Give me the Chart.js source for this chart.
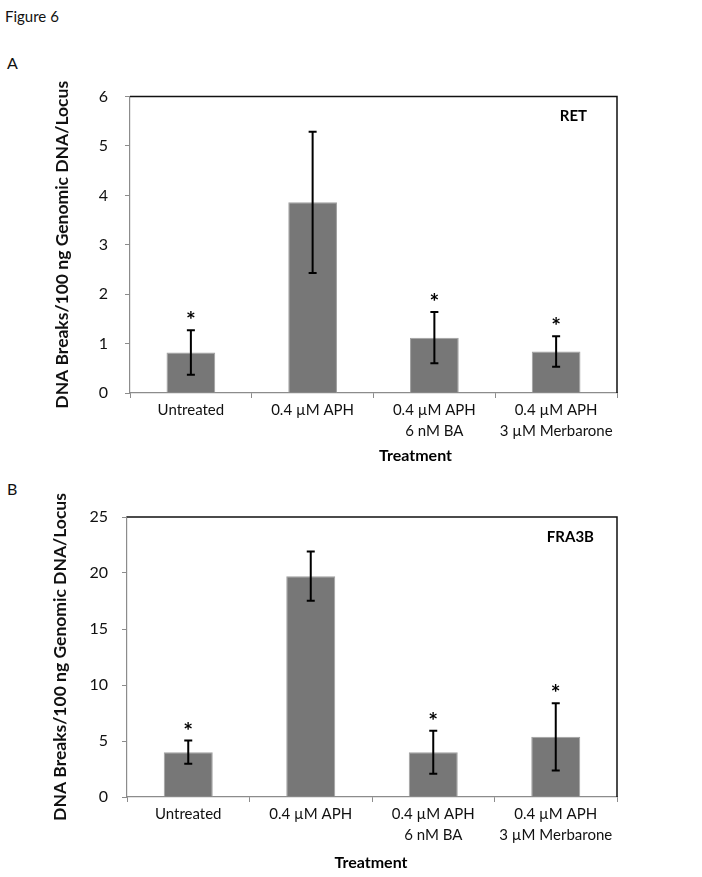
<!DOCTYPE html>
<html>
<head>
<meta charset="utf-8">
<script src="https://cdn.jsdelivr.net/npm/chart.js@4"></script>
<style>
  body { margin: 0; background: #fff; width: 702px; height: 877px; position: relative; overflow: hidden; font-family: Lato, sans-serif; }
  .lbl { position: absolute; font-size: 15px; color: #111; }
  .box { position: absolute; left: 0; }
</style>
</head>
<body>
<div class="lbl" style="left:5px; top:7px;">Figure 6</div>
<div class="lbl" style="left:7px; top:53px; font-size:16px;">A</div>
<div class="lbl" style="left:7px; top:479px; font-size:16px;">B</div>
<div class="box" style="top:70px;"><canvas id="chartA" width="702" height="400"></canvas></div>
<div class="box" style="top:480px;"><canvas id="chartB" width="702" height="397"></canvas></div>
<script>
// categories (multi-line tick labels)
const treatments = [
  ['Untreated'],
  ['0.4 µM APH'],
  ['0.4 µM APH', '6 nM BA'],
  ['0.4 µM APH', '3 µM Merbarone']
];
// panel A: RET
const retBreaks = [0.82, 3.86, 1.12, 0.84];
const retErr = [0.45, 1.43, 0.52, 0.31];
// panel B: FRA3B
const fraBreaks = [4.0, 19.72, 4.0, 5.37];
const fraErr = [1.04, 2.2, 1.92, 3.0];
// * = significant vs 0.4 µM APH
const significant = [true, false, true, true];

const retTicks = { min: 0, max: 6, step: 1 };
const fraTicks = { min: 0, max: 25, step: 5 };

const yTitle = 'DNA Breaks/100 ng Genomic DNA/Locus';
const xTitle = 'Treatment';

Chart.defaults.font.family = 'Lato, sans-serif';
Chart.defaults.color = '#111';

const axisGrey = '#8c8c8c';

// error bars + asterisks, drawn through the scales
const errorBars = {
  id: 'errorBars',
  afterDatasetsDraw(chart, args, opts) {
    const { ctx, scales: { x, y } } = chart;
    const vals = chart.data.datasets[0].data;
    ctx.save();
    ctx.strokeStyle = '#000';
    ctx.lineWidth = 2;
    vals.forEach((v, i) => {
      const px = x.getPixelForValue(i);
      const top = y.getPixelForValue(v + opts.errors[i]);
      const bot = y.getPixelForValue(v - opts.errors[i]);
      ctx.beginPath();
      ctx.moveTo(px, top); ctx.lineTo(px, bot);
      ctx.moveTo(px - 4, top); ctx.lineTo(px + 4, top);
      ctx.moveTo(px - 4, bot); ctx.lineTo(px + 4, bot);
      ctx.stroke();
      if (opts.stars[i]) {
        ctx.fillStyle = '#000';
        ctx.font = 'bold 23px Lato, sans-serif';
        ctx.textAlign = 'center';
        ctx.textBaseline = 'alphabetic';
        ctx.fillText('*', px, top - 2);
      }
    });
    ctx.restore();
  }
};

// black top/right frame, locus label, shifted x title
const extras = {
  id: 'extras',
  afterDraw(chart, args, opts) {
    const { ctx, chartArea: a } = chart;
    ctx.save();
    ctx.strokeStyle = '#111';
    ctx.lineWidth = 1.5;
    ctx.beginPath();
    ctx.moveTo(a.left, a.top); ctx.lineTo(a.right, a.top); ctx.lineTo(a.right, a.bottom);
    ctx.stroke();
    ctx.fillStyle = '#000';
    ctx.font = 'bold 15px Lato, sans-serif';
    ctx.textAlign = 'right';
    ctx.textBaseline = 'middle';
    ctx.fillText(opts.locus, a.right - opts.locusDx, a.top + 20);
    ctx.font = 'bold 16px Lato, sans-serif';
    ctx.textAlign = 'center';
    ctx.fillText(xTitle, (a.left + a.right) / 2 + opts.titleDx, opts.titleY);
    ctx.restore();
  }
};

function makeChart(id, values, errors, ticks, cfg) {
  return new Chart(document.getElementById(id), {
    type: 'bar',
    data: {
      labels: treatments,
      datasets: [{
        data: values,
        backgroundColor: '#777777',
        borderColor: '#a0a0a0',
        borderWidth: 1,
        barPercentage: 0.4,
        categoryPercentage: 1
      }]
    },
    options: {
      responsive: false,
      animation: false,
      layout: { padding: cfg.padding },
      plugins: {
        legend: { display: false },
        tooltip: { enabled: false },
        errorBars: { errors: errors, stars: significant },
        extras: cfg.extras
      },
      scales: {
        x: {
          grid: { drawOnChartArea: false, tickLength: 5, color: axisGrey, offset: true },
          border: { color: axisGrey, width: 1.2 },
          ticks: { font: { size: 15, lineHeight: 1.45 }, padding: 1, maxRotation: 0 },
          afterFit: s => { s.height = cfg.xHeight; }
        },
        y: {
          min: ticks.min, max: ticks.max,
          ticks: { stepSize: ticks.step, font: { size: 16 }, padding: cfg.tickPad },
          grid: { drawOnChartArea: false, tickLength: 5, color: axisGrey },
          border: { color: axisGrey, width: 1.2 },
          title: { display: true, text: yTitle, font: { size: 17.5, weight: 'bold' }, padding: 0 },
          afterFit: s => { s.width = cfg.yWidth; }
        }
      }
    },
    plugins: [errorBars, extras]
  });
}

makeChart('chartA', retBreaks, retErr, retTicks, {
  padding: { left: 52, right: 85, top: 13, bottom: 0 },
  xHeight: 77, yWidth: 78, tickPad: 17,
  extras: { locus: 'RET', locusDx: 30, titleDx: 42, titleY: 386 }
});

makeChart('chartB', fraBreaks, fraErr, fraTicks, {
  padding: { left: 50, right: 85, top: 37, bottom: 0 },
  xHeight: 80, yWidth: 77, tickPad: 14,
  extras: { locus: 'FRA3B', locusDx: 23, titleDx: -1, titleY: 383 }
});
</script>
</body>
</html>
